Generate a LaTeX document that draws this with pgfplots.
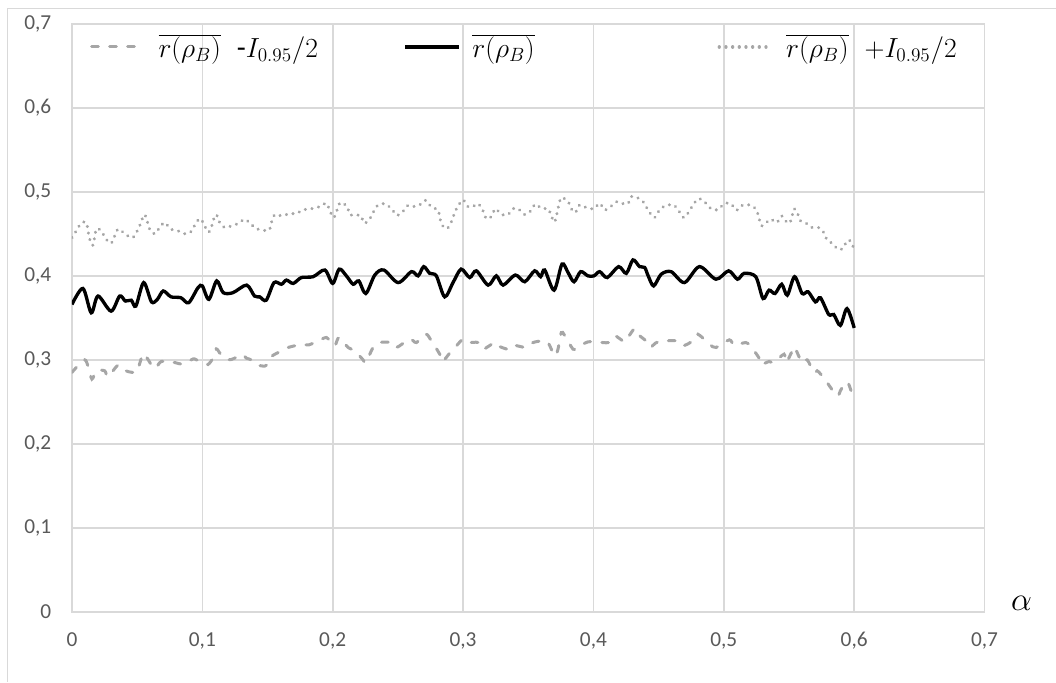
\documentclass[border=0pt]{standalone}
\usepackage[no-math]{fontspec}
\setmainfont{Carlito}
\usepackage{pgfplots}
\pgfplotsset{compat=1.18}
\definecolor{gridgray}{HTML}{D9D9D9}
\definecolor{sergray}{HTML}{A6A6A6}
\definecolor{labgray}{HTML}{595959}
\begin{document}
\begin{tikzpicture}
\path (0,0) rectangle (792pt,511.5pt);
\draw[gridgray, line width=0.75pt] (6pt,0pt) -- (6pt,504.75pt) -- (792pt,504.75pt);
\begin{axis}[
  at={(54pt,52.5pt)}, anchor=south west,
  scale only axis, width=684.75pt, height=441pt,
  xmin=0, xmax=0.7, ymin=0, ymax=0.7,
  xtick={0,0.1,0.2,0.3,0.4,0.5,0.6,0.7},
  ytick={0,0.1,0.2,0.3,0.4,0.5,0.6,0.7},
  major tick length=0pt,
  grid=major,
  major grid style={gridgray, line width=1.2pt},
  axis line style={gridgray, line width=1.2pt},
  /pgf/number format/.cd, use comma, fixed, precision=1, assume math mode=true, /pgfplots/.cd,
  ticklabel style={font=\fontsize{16}{19}\selectfont, text=labgray},
  xticklabel style={yshift=-12pt},
  yticklabel style={xshift=-12pt},
  legend columns=3,
  legend style={at={(rel axis cs:0.0197,0.961)}, anchor=west, draw=none, fill=none,
    inner sep=0pt, column sep=0pt, font=\fontsize{22}{26}\selectfont,
    nodes={inner sep=0pt},
    /tikz/every odd column/.append style={column sep=9pt}},
  legend cell align=left,
  legend image code/.code={\draw[#1] (0pt,0pt) -- (40pt,0pt);},
]
% lower bound (dashed)
\addplot[sergray, line width=2.25pt, dash pattern=on 5pt off 8.5pt, line cap=round, smooth] coordinates {
(0.000,0.2849)(0.0033,0.2909)(0.0097,0.300)(0.0123,0.2925)(0.0153,0.277)(0.0187,0.2869)
(0.0251,0.2869)(0.0276,0.280)(0.0353,0.2937)(0.0391,0.2889)(0.0430,0.286)(0.0488,0.2849)
(0.0506,0.2889)(0.0545,0.3071)(0.0570,0.3036)(0.0634,0.2897)(0.0685,0.298)(0.0788,0.2968)
(0.0852,0.2948)(0.0928,0.301)(0.0954,0.300)(0.1013,0.2968)(0.1043,0.2944)(0.1082,0.302)
(0.1107,0.313)(0.1141,0.3067)(0.1197,0.300)(0.1248,0.302)(0.1299,0.3067)(0.1338,0.302)
(0.1376,0.300)(0.1414,0.2944)(0.1478,0.2925)(0.1505,0.296)(0.1530,0.304)(0.1607,0.3107)
(0.1658,0.3147)(0.1748,0.3179)(0.1819,0.3179)(0.1914,0.3246)(0.1952,0.3266)(0.1978,0.3226)
(0.2016,0.3167)(0.2049,0.3266)(0.2118,0.3147)(0.2169,0.3107)(0.2233,0.300)(0.2254,0.2968)
(0.2310,0.3147)(0.2361,0.3206)(0.2450,0.3206)(0.2489,0.3147)(0.2591,0.3246)(0.2642,0.3206)
(0.2714,0.3306)(0.2757,0.3226)(0.2821,0.3067)(0.2841,0.298)(0.2911,0.3107)(0.2949,0.3167)
(0.3000,0.3246)(0.3038,0.3206)(0.3115,0.3206)(0.3153,0.3127)(0.3243,0.3206)(0.3268,0.3167)
(0.3345,0.3127)(0.3383,0.3175)(0.3485,0.3147)(0.3537,0.3206)(0.3613,0.3226)(0.3652,0.3206)
(0.3703,0.3048)(0.3728,0.3127)(0.3754,0.3325)(0.3779,0.329)(0.3843,0.3127)(0.3869,0.3147)
(0.3958,0.3214)(0.4022,0.3214)(0.4117,0.3206)(0.4163,0.3286)(0.4239,0.3214)(0.4265,0.3266)
(0.4316,0.3373)(0.4341,0.3306)(0.4418,0.3206)(0.4437,0.3147)(0.4495,0.3214)(0.4635,0.3226)
(0.4685,0.3167)(0.4762,0.3226)(0.4800,0.3306)(0.4889,0.3187)(0.4940,0.3147)(0.5042,0.3238)
(0.5080,0.3175)(0.5169,0.3206)(0.5207,0.3159)(0.5271,0.302)(0.5283,0.2944)(0.5347,0.298)
(0.5385,0.2968)(0.5462,0.3067)(0.5479,0.2968)(0.5538,0.3147)(0.5551,0.3127)(0.5601,0.2968)
(0.5640,0.300)(0.5691,0.2849)(0.5716,0.2869)(0.5754,0.281)(0.5792,0.273)(0.5869,0.2571)
(0.5894,0.2631)(0.5932,0.273)(0.5958,0.271)(0.6000,0.2512)
};
\addlegendentry{\makebox[184pt][l]{$\overline{r(\rho_B)}$\hspace{12pt}-$I_{0.95}/2$}}
% mean (solid black)
\addplot[black, line width=2.5pt, smooth] coordinates {
(0.000,0.366)(0.0084,0.385)(0.0148,0.356)(0.020,0.376)(0.030,0.358)(0.0366,0.376)
(0.041,0.370)(0.0455,0.371)(0.049,0.364)(0.055,0.392)(0.061,0.369)(0.0655,0.372)
(0.070,0.382)(0.076,0.375)(0.0835,0.374)(0.0895,0.368)(0.0967,0.386)(0.100,0.388)
(0.105,0.372)(0.111,0.394)(0.116,0.380)(0.1235,0.380)(0.134,0.389)(0.140,0.376)
(0.144,0.375)(0.149,0.371)(0.155,0.392)(0.1607,0.390)(0.1645,0.395)(0.1697,0.391)
(0.176,0.398)(0.185,0.399)(0.194,0.407)(0.200,0.391)(0.205,0.408)(0.2105,0.400)
(0.2157,0.390)(0.2200,0.394)(0.2254,0.379)(0.2323,0.401)(0.2392,0.407)(0.2502,0.392)
(0.2604,0.405)(0.2655,0.400)(0.2698,0.411)(0.2744,0.403)(0.2795,0.400)(0.2859,0.375)
(0.2923,0.392)(0.2985,0.408)(0.3051,0.398)(0.3102,0.406)(0.3192,0.389)(0.3255,0.400)
(0.3307,0.389)(0.3401,0.401)(0.3473,0.393)(0.3549,0.406)(0.3595,0.399)(0.3626,0.407)
(0.3698,0.383)(0.3759,0.414)(0.3805,0.404)(0.3851,0.393)(0.3902,0.405)(0.3958,0.400)
(0.4004,0.400)(0.4048,0.405)(0.4106,0.398)(0.4193,0.411)(0.4252,0.403)(0.4303,0.419)
(0.4354,0.411)(0.4393,0.410)(0.4420,0.400)(0.4462,0.388)(0.4520,0.402)(0.4596,0.405)
(0.4698,0.392)(0.4813,0.411)(0.4940,0.396)(0.5037,0.406)(0.5105,0.396)(0.5156,0.403)
(0.5245,0.399)(0.5301,0.373)(0.5347,0.383)(0.5393,0.379)(0.5444,0.390)(0.5487,0.377)
(0.5543,0.399)(0.5601,0.379)(0.5647,0.381)(0.5703,0.369)(0.5741,0.374)(0.5805,0.354)
(0.5843,0.354)(0.5894,0.341)(0.5945,0.361)(0.6000,0.338)
};
\addlegendentry{\makebox[184pt][l]{$\overline{r(\rho_B)}$}}
% upper bound (dotted)
\addplot[sergray, line width=2.5pt, dash pattern=on 0.01pt off 5pt, line cap=round, smooth] coordinates {
(0.000,0.4456)(0.0033,0.4536)(0.0072,0.463)(0.0110,0.4635)(0.0123,0.4536)(0.0136,0.4437)
(0.0161,0.4365)(0.0187,0.4556)(0.0225,0.4536)(0.0256,0.445)(0.0302,0.439)(0.0353,0.4556)
(0.0409,0.4496)(0.0468,0.4456)(0.0519,0.4595)(0.0558,0.473)(0.0596,0.4556)(0.0634,0.450)
(0.0673,0.4575)(0.0711,0.4635)(0.0757,0.4556)(0.0813,0.4536)(0.0870,0.450)(0.0916,0.453)
(0.0946,0.4615)(0.0987,0.468)(0.1043,0.4524)(0.1069,0.4575)(0.1082,0.4655)(0.1107,0.473)
(0.1133,0.4635)(0.1171,0.4575)(0.1223,0.4595)(0.1274,0.4623)(0.1325,0.4675)(0.1363,0.463)
(0.1414,0.4563)(0.1465,0.4544)(0.1513,0.4544)(0.1530,0.4635)(0.1556,0.473)(0.1607,0.4714)
(0.1671,0.4742)(0.1722,0.4742)(0.1773,0.4786)(0.1837,0.480)(0.1901,0.4825)(0.1952,0.4865)
(0.1978,0.4774)(0.2008,0.4694)(0.2034,0.4786)(0.2059,0.4873)(0.2111,0.4825)(0.2131,0.473)
(0.2177,0.472)(0.2215,0.472)(0.2241,0.4627)(0.2279,0.4667)(0.2310,0.4754)(0.2341,0.4833)
(0.2399,0.486)(0.2450,0.480)(0.2494,0.472)(0.2535,0.476)(0.2578,0.484)(0.2629,0.4825)
(0.2675,0.4853)(0.2714,0.490)(0.2757,0.482)(0.2808,0.4786)(0.2821,0.4694)(0.2841,0.460)
(0.2877,0.4563)(0.2910,0.4643)(0.2936,0.4754)(0.2962,0.4833)(0.3000,0.4905)(0.3038,0.4825)
(0.3077,0.4825)(0.3115,0.486)(0.3153,0.4774)(0.3179,0.468)(0.3217,0.4706)(0.3248,0.480)
(0.3294,0.473)(0.3345,0.473)(0.3383,0.480)(0.3422,0.480)(0.3473,0.473)(0.3519,0.4774)
(0.3554,0.4853)(0.3606,0.480)(0.3652,0.480)(0.3677,0.4714)(0.3703,0.4643)(0.3733,0.4833)
(0.3754,0.4933)(0.3805,0.4885)(0.3830,0.480)(0.3861,0.4754)(0.3894,0.4845)(0.3945,0.4813)
(0.4004,0.480)(0.4048,0.4865)(0.4086,0.4786)(0.4132,0.4825)(0.4181,0.4885)(0.4227,0.486)
(0.4265,0.486)(0.4290,0.4944)(0.4329,0.4937)(0.4380,0.4885)(0.4413,0.480)(0.4431,0.4754)
(0.4469,0.4694)(0.4502,0.4774)(0.4546,0.4833)(0.4614,0.4845)(0.4655,0.4774)(0.4693,0.4694)
(0.4731,0.476)(0.4767,0.4853)(0.4808,0.492)(0.4858,0.4873)(0.4902,0.480)(0.4953,0.4786)
(0.5004,0.486)(0.5054,0.486)(0.5098,0.4782)(0.5143,0.4841)(0.5207,0.4841)(0.5250,0.4786)
(0.5271,0.468)(0.5291,0.4595)(0.5322,0.4627)(0.5360,0.4675)(0.5406,0.4635)(0.5444,0.4714)
(0.5474,0.4655)(0.5505,0.4627)(0.5525,0.472)(0.5540,0.480)(0.5563,0.4754)(0.5589,0.4655)
(0.5632,0.4627)(0.5678,0.4575)(0.5729,0.4575)(0.5767,0.4516)(0.5792,0.4429)(0.5830,0.4389)
(0.5876,0.4317)(0.5912,0.4325)(0.5945,0.4417)(0.5970,0.4417)(0.6000,0.4317)
};
\addlegendentry{\makebox[184pt][l]{$\overline{r(\rho_B)}$\hspace{12pt}$+I_{0.95}/2$}}
\end{axis}
\node at (766.5pt,58.5pt) {\fontsize{24}{28}\selectfont$\alpha$};
\end{tikzpicture}
\end{document}
